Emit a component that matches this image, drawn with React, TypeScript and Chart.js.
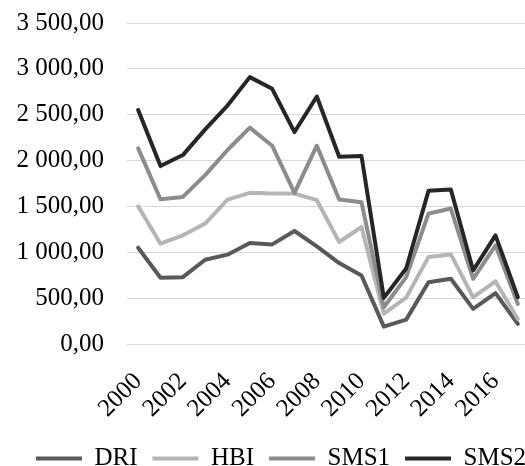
import React, { useEffect, useRef } from "react";
import { Chart, registerables } from "chart.js";

Chart.register(...registerables);

const years = [
  "2000", "2001", "2002", "2003", "2004", "2005", "2006", "2007", "2008",
  "2009", "2010", "2011", "2012", "2013", "2014", "2015", "2016", "2017",
];

const dri = [1050, 722, 729, 919, 974, 1101, 1086, 1232, 1064, 882, 747, 189, 266, 674, 711, 383, 554, 219];
const hbi = [1502, 1094, 1185, 1313, 1575, 1648, 1642, 1640, 1568, 1112, 1276, 330, 506, 948, 977, 510, 682, 273];
const sms1 = [2133, 1579, 1604, 1841, 2115, 2359, 2162, 1648, 2162, 1575, 1546, 400, 729, 1422, 1477, 711, 1075, 437];
const sms2 = [2552, 1940, 2060, 2340, 2600, 2910, 2782, 2311, 2698, 2042, 2050, 503, 823, 1670, 1685, 802, 1185, 510];

const seriesNames = ["DRI", "HBI", "SMS1", "SMS2"];
const seriesColors = ["#595959", "#b5b5b5", "#8c8c8c", "#262626"];

const yTicks = [0, 500, 1000, 1500, 2000, 2500, 3000, 3500];

function fmt(v: number): string {
  const [i, d] = v.toFixed(2).split(".");
  const withSpaces = i.replace(/\B(?=(\d{3})+(?!\d))/g, " ");
  return withSpaces + "," + d;
}

const FONT = "'Liberation Serif', 'Times New Roman', serif";

export default function App() {
  const ref = useRef<HTMLCanvasElement | null>(null);

  useEffect(() => {
    if (!ref.current) return;
    const data = [dri, hbi, sms1, sms2];
    const chart = new Chart(ref.current, {
      type: "line",
      data: {
        labels: years,
        datasets: data.map((d, i) => ({
          label: seriesNames[i],
          data: d,
          borderColor: seriesColors[i],
          backgroundColor: seriesColors[i],
          borderWidth: 4,
          pointRadius: 0,
          pointHoverRadius: 0,
          tension: 0,
          borderJoinStyle: "round" as const,
          borderCapStyle: "round" as const,
          order: 4 - i,
          yAxisID: "y",
        })),
      },
      options: {
        animation: false,
        responsive: true,
        maintainAspectRatio: false,
        layout: { padding: { top: 23, right: 0, left: 0, bottom: 0 } },
        plugins: {
          tooltip: { enabled: false },
          legend: {
            position: "bottom",
            labels: {
              color: "#000",
              font: { family: FONT, size: 25 },
              boxWidth: 46,
              boxHeight: 4,
              padding: 15,
              sort: (a: any, b: any) => a.datasetIndex - b.datasetIndex,
              generateLabels: (c: any) =>
                Chart.defaults.plugins.legend.labels
                  .generateLabels(c)
                  .map((l: any) => ({ ...l, lineWidth: 0 })),
            },
          },
        },
        scales: {
          x: {
            offset: true,
            grid: {
              display: true,
              drawOnChartArea: false,
              drawTicks: true,
              tickLength: 23,
              color: "transparent",
              tickColor: "transparent",
            },
            border: { display: false },
            afterFit: (s: any) => {
              s.height = 87;
            },
            ticks: {
              autoSkip: false,
              maxRotation: 45,
              minRotation: 45,
              padding: 0,
              color: "#000",
              font: { family: FONT, size: 25 },
              callback: (_v: any, idx: number) => (idx % 2 === 0 ? years[idx] : ""),
            },
          },
          y: {
            position: "left",
            min: 0,
            max: 3500,
            afterFit: (s: any) => {
              s.width = 127;
            },
            afterBuildTicks: (s: any) => {
              s.ticks = yTicks.map((v) => ({ value: v }));
            },
            grid: {
              color: "#d9d9d9",
              lineWidth: 1,
              drawTicks: true,
              tickLength: 23,
              tickColor: "transparent",
            },
            border: { display: false },
            ticks: {
              padding: 0,
              color: "#000",
              font: { family: FONT, size: 25 },
              callback: (v: any) => fmt(Number(v)),
            },
          },
          yRight: {
            position: "right",
            display: true,
            grid: { display: false, drawTicks: false },
            border: { display: false },
            ticks: { display: false },
            afterFit: (s: any) => {
              s.width = 33;
            },
          },
        },
      },
    });
    return () => chart.destroy();
  }, []);

  return (
    <div
      style={{
        position: "fixed",
        left: 0,
        top: 0,
        width: 525,
        height: 466,
        overflow: "hidden",
        background: "#fff",
      }}
    >
      <div style={{ position: "relative", width: 562, height: 481 }}>
        <canvas ref={ref} />
      </div>
    </div>
  );
}
